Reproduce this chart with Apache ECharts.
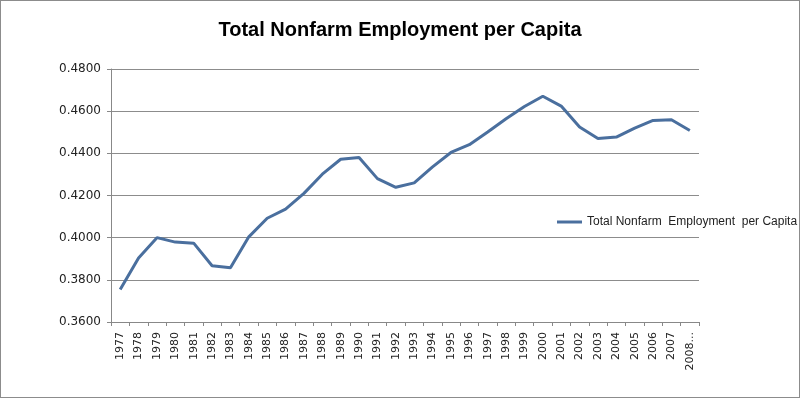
<!DOCTYPE html>
<html>
<head>
<meta charset="utf-8">
<script src="https://cdn.jsdelivr.net/npm/echarts@6/dist/echarts.min.js"></script>
<style>
  html, body { margin: 0; padding: 0; background: #fff; }
  #chart { width: 800px; height: 398px; box-sizing: border-box; border: 1px solid #8c8c8c; }
</style>
</head>
<body>
<div id="chart"></div>
<script>
var years = ['1977', '1978', '1979', '1980', '1981', '1982', '1983', '1984', '1985', '1986',
    '1987', '1988', '1989', '1990', '1991', '1992', '1993', '1994', '1995', '1996',
    '1997', '1998', '1999', '2000', '2001', '2002', '2003', '2004', '2005', '2006',
    '2007', '2008...'];

var perCapita = [0.3754, 0.3904, 0.4000, 0.3979, 0.3974, 0.3867, 0.3857, 0.4004, 0.4092, 0.4135,
    0.4210, 0.4301, 0.4372, 0.4380, 0.4280, 0.4239, 0.4260, 0.4336, 0.4404, 0.4441,
    0.4501, 0.4564, 0.4622, 0.4671, 0.4624, 0.4525, 0.4470, 0.4477, 0.4520, 0.4556,
    0.4559, 0.4508];

var seriesName = 'Total Nonfarm  Employment  per Capita';

var chart = echarts.init(document.getElementById('chart'));

chart.setOption({
    animation: false,
    title: {
        text: 'Total Nonfarm Employment per Capita',
        left: 'center',
        top: 14,
        textStyle: {
            fontFamily: 'Liberation Sans',
            fontSize: 20,
            fontWeight: 'bold',
            color: '#000'
        }
    },
    legend: {
        data: [seriesName],
        left: 551,
        top: 210,
        icon: 'rect',
        itemWidth: 25,
        itemHeight: 3,
        itemGap: 4,
        textStyle: { fontFamily: 'Liberation Sans', fontSize: 12, color: '#222' }
    },
    grid: {
        left: 110,
        right: 100,
        top: 68,
        bottom: 75,
        containLabel: false
    },
    xAxis: {
        type: 'category',
        data: years,
        boundaryGap: true,
        axisLine: { lineStyle: { color: '#888', width: 1 } },
        axisTick: { show: true, alignWithLabel: false, length: 4, lineStyle: { color: '#888' } },
        axisLabel: {
            rotate: 90,
            interval: 0,
            margin: 10,
            fontFamily: 'DejaVu Sans',
            fontSize: 11,
            color: '#222'
        }
    },
    yAxis: {
        type: 'value',
        min: 0.36,
        max: 0.48,
        interval: 0.02,
        axisLine: { show: true, lineStyle: { color: '#888', width: 1 } },
        axisTick: { show: true, length: 4, lineStyle: { color: '#888' } },
        splitLine: { lineStyle: { color: '#8c8c8c', width: 1 } },
        axisLabel: {
            formatter: function (v) { return v.toFixed(4); },
            margin: 10,
            fontFamily: 'DejaVu Sans',
            fontSize: 12,
            color: '#222'
        }
    },
    series: [
        {
            name: seriesName,
            type: 'line',
            data: perCapita,
            symbol: 'none',
            lineStyle: { color: '#4a6f9e', width: 3 },
            itemStyle: { color: '#4a6f9e' }
        }
    ]
});
</script>
</body>
</html>
